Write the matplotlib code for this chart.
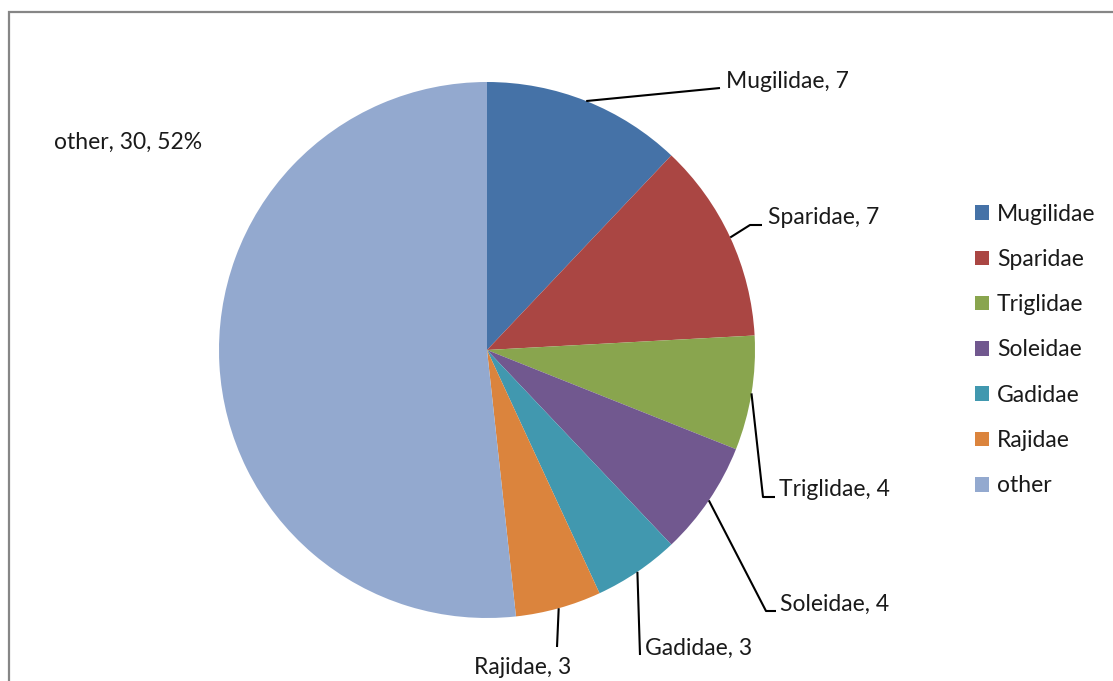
import numpy as np
import matplotlib.pyplot as plt
from matplotlib.patches import Rectangle

# fish family counts
families = ['Mugilidae', 'Sparidae', 'Triglidae', 'Soleidae', 'Gadidae', 'Rajidae', 'other']
counts = [7, 7, 4, 4, 3, 3, 30]
colors = ['#4572A7', '#AA4643', '#89A54E', '#71588F', '#4198AF', '#DB843D', '#93A9CF']

W, H = 1113, 681
FS = 16.5
plt.rcParams['font.family'] = ['Lato', 'DejaVu Sans']

fig = plt.figure(figsize=(W / 100, H / 100), dpi=100)
ax = fig.add_axes([0, 0, 1, 1])

cx, cy, r = 487, H - 350, 268
wedges, _ = ax.pie(counts, colors=colors, startangle=90, counterclock=False,
                   center=(cx, cy), radius=r, frame=True,
                   wedgeprops=dict(linewidth=0))
ax.set_xlim(0, W)
ax.set_ylim(0, H)
ax.axis('off')

# label placement: (leader points after the wedge edge, text pos, ha); y measured from top
label_layout = {
    'Mugilidae': ([(720, 88)], (726, 82), 'left'),
    'Sparidae': ([(750, 225), (762, 225)], (768, 217), 'left'),
    'Triglidae': ([(763, 497), (775, 497)], (779, 490), 'left'),
    'Soleidae': ([(766, 611), (776, 611)], (780, 604), 'left'),
    'Gadidae': ([(640, 655)], (645, 648), 'left'),
    'Rajidae': ([(557, 647)], (523, 667), 'center'),
}

total = sum(counts)
for w, name, n in zip(wedges, families, counts):
    if name == 'other':
        pct = 100 * n / total
        ax.text(54, H - 142, f'{name}, {n}, {pct:.0f}%', fontsize=FS,
                ha='left', va='center', color='#1a1a1a')
        continue
    mid = np.deg2rad((w.theta1 + w.theta2) / 2)
    ex, ey = cx + r * np.cos(mid), cy + r * np.sin(mid)
    pts, (tx, ty), ha = label_layout[name]
    xs = [ex] + [p[0] for p in pts]
    ys = [ey] + [H - p[1] for p in pts]
    ax.plot(xs, ys, color='black', lw=1.5, solid_capstyle='butt')
    ax.text(tx, H - ty, f'{name}, {n}', fontsize=FS, ha=ha, va='center', color='#1a1a1a')

leg = ax.legend(wedges, families, loc='center left', bbox_to_anchor=(975, H - 350),
                bbox_transform=ax.transData, frameon=False, fontsize=FS,
                handlelength=0.6, handleheight=0.6, handletextpad=0.35,
                labelspacing=1.06, borderpad=0, borderaxespad=0)
for t in leg.get_texts():
    t.set_color('#1a1a1a')

# chart area border
ax.add_patch(Rectangle((9, -20), W + 40, H - 12 + 20, fill=False,
                       edgecolor='#868686', lw=1.6, clip_on=True))

fig.savefig('out.png', dpi=100)
